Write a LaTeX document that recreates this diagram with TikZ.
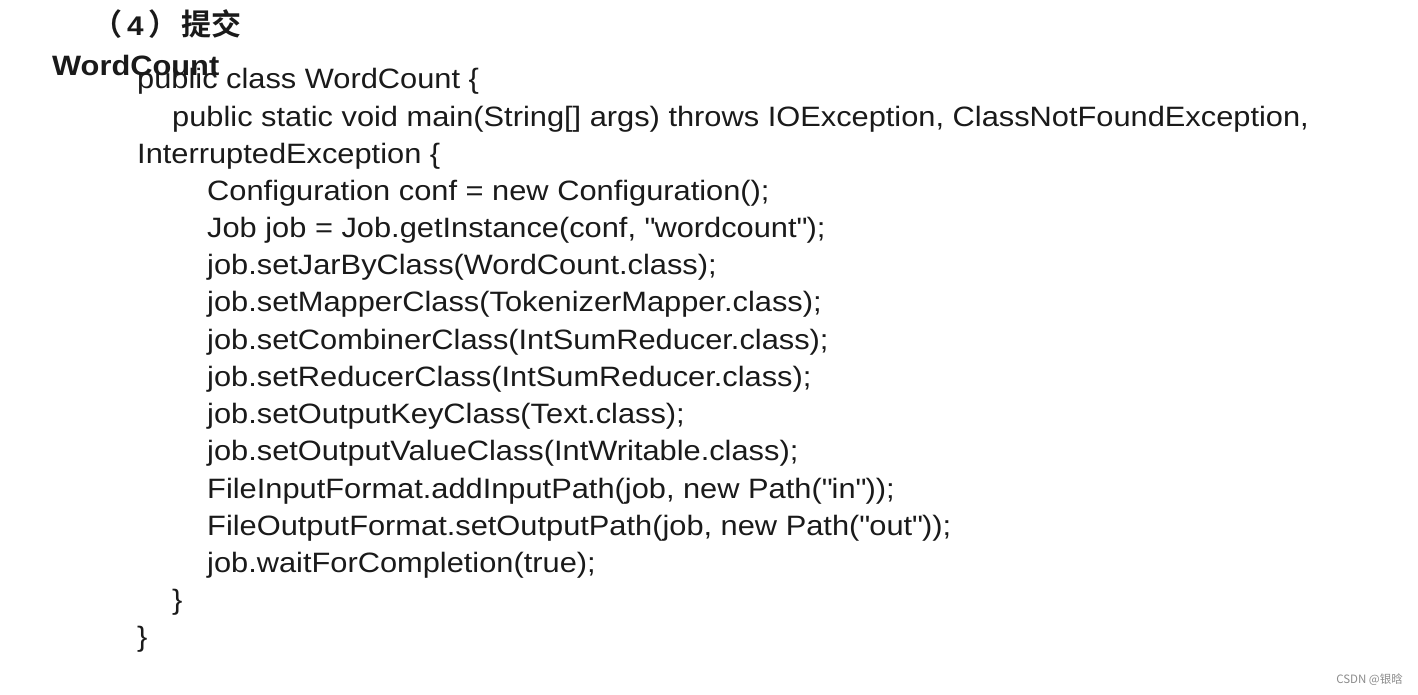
\documentclass[tikz,border=0pt]{standalone}
\usepackage{fontspec}
\setmainfont[FakeStretch=1.1]{Liberation Sans}
\newfontfamily\cjk{Noto Sans CJK SC}
\newfontfamily\cjkb{Noto Sans CJK SC Bold}
\definecolor{ink}{HTML}{1A1A1A}
\definecolor{mark}{HTML}{8C8C8C}
\begin{document}
\begin{tikzpicture}[x=1pt,y=-1pt,
  code/.style={anchor=base west,inner sep=0pt,text=ink,font=\fontsize{28}{28}\selectfont},
  title/.style={anchor=base west,inner sep=0pt,text=ink,font=\fontsize{28}{28}\selectfont\bfseries},
  head/.style={anchor=base west,inner sep=0pt,text=ink,font=\fontsize{30}{30}\selectfont\cjkb},
  wm/.style={anchor=base east,inner sep=0pt,text=mark,font=\fontsize{11.5}{11.5}\selectfont\cjk}]
\useasboundingbox[fill=white] (0,0) rectangle (1418,694);
\node[head] (h) at (92,35) {（\hspace{5pt}{\rmfamily\bfseries\fontsize{27}{27}\selectfont 4}\hspace{5pt}）\hspace{3pt}提交};
\node[title] (wc) at (52,75) {WordCount};
\node[code] (l1) at (137,88) {public class WordCount \{};
\node[code] (l2) at (172,126) {public static void main(String[] args) throws IOException, ClassNotFoundException,};
\node[code] (l3) at (137,163) {InterruptedException \{};
\node[code] (l4) at (207,200) {Configuration conf = new Configuration();};
\node[code] (l5) at (207,237) {Job job = Job.getInstance(conf, \textquotedbl wordcount\textquotedbl);};
\node[code] (l6) at (207,274) {job.setJarByClass(WordCount.class);};
\node[code] (l7) at (207,311) {job.setMapperClass(TokenizerMapper.class);};
\node[code] (l8) at (207,349) {job.setCombinerClass(IntSumReducer.class);};
\node[code] (l9) at (207,386) {job.setReducerClass(IntSumReducer.class);};
\node[code] (l10) at (207,423) {job.setOutputKeyClass(Text.class);};
\node[code] (l11) at (207,460) {job.setOutputValueClass(IntWritable.class);};
\node[code] (l12) at (207,498) {FileInputFormat.addInputPath(job, new Path(\textquotedbl in\textquotedbl));};
\node[code] (l13) at (207,535) {FileOutputFormat.setOutputPath(job, new Path(\textquotedbl out\textquotedbl));};
\node[code] (l14) at (207,572) {job.waitForCompletion(true);};
\node[code] (l15) at (172,609) {\}};
\node[code] (l16) at (137,646) {\}};
\node[wm] (w) at (1403,683) {CSDN @银晗};
\end{tikzpicture}
\end{document}
